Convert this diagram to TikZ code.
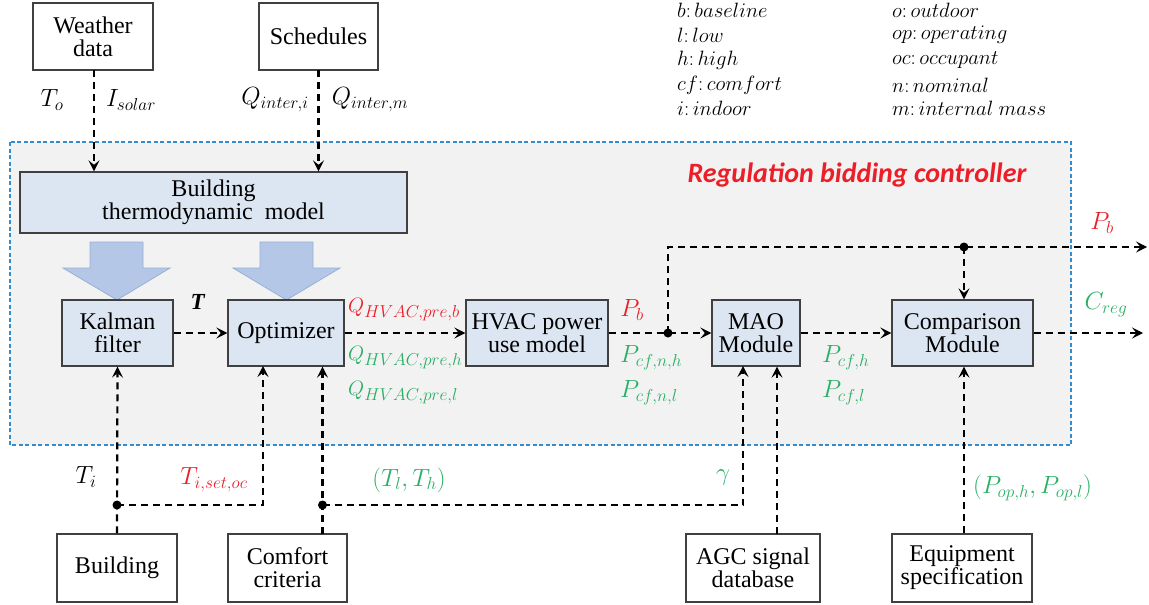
\documentclass[tikz,border=0pt]{standalone}
\usepackage{fontspec}
\setmainfont{Liberation Serif}[Ligatures=TeX]
\newfontfamily\titlefont{Carlito}
\newfontfamily\boxfont{Liberation Serif}
\usetikzlibrary{arrows.meta,calc}
\DeclareMathSizes{23}{23}{17}{13}
\DeclareMathSizes{22}{22}{16}{12}
\DeclareMathSizes{21.5}{21.5}{16}{12}
\definecolor{redc}{RGB}{236,30,40}
\definecolor{greenc}{RGB}{40,175,100}
\definecolor{bluedash}{RGB}{50,140,205}
\definecolor{regionfill}{RGB}{242,242,242}
\definecolor{boxfill}{RGB}{220,230,242}
\definecolor{fatfill}{RGB}{180,199,231}
\definecolor{fatedge}{RGB}{150,175,215}
\definecolor{edge}{RGB}{64,64,64}
\tikzset{
  wbox/.style={draw=edge, line width=1.3pt, fill=white, align=center, inner sep=0pt,
    font=\boxfont\fontsize{24}{23}\selectfont},
  bbox/.style={wbox, fill=boxfill},
  dline/.style={draw=black, line width=2.2pt, dash pattern=on 7pt off 5pt},
  darr/.style={dline, -{Stealth[length=11pt,width=11pt,inset=4.5pt]}},
  lbl/.style={inner sep=0pt, font=\fontsize{23}{25}\selectfont},
  qlbl/.style={inner sep=0pt, anchor=west, font=\fontsize{22}{24}\selectfont},
  leg/.style={inner sep=0pt, anchor=west, font=\fontsize{21.5}{24}\selectfont},
  jdot/.style={fill=black}
}
\begin{document}
\begin{tikzpicture}[x=1pt,y=-1pt]
\useasboundingbox (0,0) rectangle (1149,605);
% controller region
\draw[fill=regionfill, draw=bluedash, line width=1.5pt, dash pattern=on 4pt off 2.5pt] (10,142) rectangle (1071,445);
\node[inner sep=0pt, text=redc, font=\titlefont\bfseries\itshape\fontsize{28}{30}\selectfont] (title) at (857,175) {Regulation bidding controller};

% legend
\node[leg] (l1) at (677,10) {$b\colon baseline$};
\node[leg] (l2) at (677,35) {$l\colon low$};
\node[leg] (l3) at (677,60) {$h\colon high$};
\node[leg] (l4) at (677,85) {$cf\colon comfort$};
\node[leg] (l5) at (677,108) {$i\colon indoor$};
\node[leg] (r1) at (892,10) {$o\colon outdoor$};
\node[leg] (r2) at (892,35) {$op\colon operating$};
\node[leg] (r3) at (892,60) {$oc\colon occupant$};
\node[leg] (r4) at (892,85) {$n\colon nominal$};
\node[leg] (r5) at (892,108) {$m\colon internal\ mass$};

% top boxes
\node[wbox, minimum width=120pt, minimum height=67pt] (weather) at (93,36.5) {Weather\\data};
\node[wbox, minimum width=119pt, minimum height=67pt] (sched) at (318.5,36.5) {Schedules};

% model
\node[bbox, minimum width=387pt, minimum height=61pt] (btm) at (213.5,202.5) {Building\\thermodynamic\ \ model};

% fat arrows
\draw[fill=fatfill, draw=fatedge, line width=0.8pt]
  (90,242) -- (143,242) -- (143,268) -- (170,268) -- (117,300) -- (63,268) -- (90,268) -- cycle;
\draw[fill=fatfill, draw=fatedge, line width=0.8pt]
  (260,242) -- (313,242) -- (313,268) -- (340,268) -- (286.5,300) -- (233,268) -- (260,268) -- cycle;

% middle row
\node[bbox, minimum width=111pt, minimum height=66pt] (kalman) at (117.5,333) {Kalman\\filter};
\node[bbox, minimum width=116pt, minimum height=66pt] (opt) at (286,333) {Optimizer};
\node[bbox, minimum width=142pt, minimum height=66pt] (hvac) at (537,333) {HVAC power\\use model};
\node[bbox, minimum width=88pt, minimum height=66pt] (mao) at (756,333) {MAO\\Module};
\node[bbox, minimum width=141pt, minimum height=66pt] (comp) at (962.5,333) {Comparison\\Module};

% bottom boxes
\node[wbox, minimum width=120pt, minimum height=68pt] (bld) at (117,568) {Building};
\node[wbox, minimum width=119pt, minimum height=68pt] (cfc) at (287.5,568) {Comfort\\criteria};
\node[wbox, minimum width=134pt, minimum height=68pt] (agc) at (753,568) {AGC signal\\database};
\node[wbox, minimum width=140pt, minimum height=68pt] (equip) at (962,568) {Equipment\\specification};

% coordinates
\coordinate (wo) at (94,70);
\coordinate (so) at (318.5,70);
\coordinate (j1) at (117,505);
\coordinate (optin1) at (263,366);
\coordinate (cfo) at (322.5,534);
\coordinate (j2) at (322.5,505);
\coordinate (maoin1) at (743,366);
\coordinate (agco) at (777,534);
\coordinate (j3) at (668,333);
\coordinate (j4) at (964,247);
\coordinate (out1) at (1147,247);
\coordinate (out2) at (1143,333);

% connectors
\draw[darr] (wo) -- (wo |- btm.north);
\draw[darr] (so) -- (so |- btm.north);
\draw[darr] (kalman.east) -- (opt.west);
\draw[darr] (opt.east) -- (hvac.west);
\draw[darr] (hvac.east) -- (mao.west);
\draw[darr] (mao.east) -- (comp.west);
\draw[darr] (comp.east) -- (out2);
\draw[darr] (j3) |- (out1);
\draw[darr] (j4) -- (j4 |- comp.north);
\draw[darr] (bld.north) -- (kalman.south);
\draw[darr] (j1) -| (optin1);
\draw[darr] (cfo) -- (cfo |- opt.south);
\draw[darr] (j2) -| (maoin1);
\draw[darr] (agco) -- (agco |- mao.south);
\draw[darr] (equip.north -| j4) -- (j4 |- comp.south);
\fill[jdot] (j1) circle (4.5pt);
\fill[jdot] (j2) circle (4.5pt);
\fill[jdot] (j3) circle (4.5pt);
\fill[jdot] (j4) circle (4.5pt);

% labels
\node[lbl] (lto) at (52,100) {$T_o$};
\node[lbl] (lis) at (131,100) {$I_{solar}$};
\node[lbl] (lqi) at (275,100) {$Q_{inter,i}$};
\node[lbl] (lqm) at (370,100) {$Q_{inter,m}$};
\node[lbl] (lT) at (198,302) {\textbf{\textit{T}}};
\node[qlbl, text=redc] (lqb) at (348,310) {$Q_{HVAC,pre,b}$};
\node[qlbl, text=greenc] (lqh) at (348,358) {$Q_{HVAC,pre,h}$};
\node[qlbl, text=greenc] (lql) at (348,393) {$Q_{HVAC,pre,l}$};
\node[lbl, text=redc] (lpb) at (632,310) {$P_b$};
\node[lbl, anchor=west, text=greenc] (lpnh) at (620,358) {$P_{cf,n,h}$};
\node[lbl, anchor=west, text=greenc] (lpnl) at (620,393) {$P_{cf,n,l}$};
\node[lbl, anchor=west, text=greenc] (lph) at (822,358) {$P_{cf,h}$};
\node[lbl, anchor=west, text=greenc] (lpl) at (822,393) {$P_{cf,l}$};
\node[lbl, text=redc] (lpb2) at (1102,223) {$P_b$};
\node[lbl, text=greenc] (lcr) at (1106,305) {$C_{reg}$};
\node[lbl] (lti) at (86,477) {$T_i$};
\node[lbl, text=redc] (ltset) at (214,480) {$T_{i,set,oc}$};
\node[lbl, text=greenc] (ltlh) at (409,480) {$(T_l,T_h)$};
\node[lbl, text=greenc] (lgam) at (723,478) {$\gamma$};
\node[lbl, anchor=west, text=greenc] (lpop) at (973,488) {$(P_{op,h},P_{op,l})$};
\end{tikzpicture}
\end{document}
